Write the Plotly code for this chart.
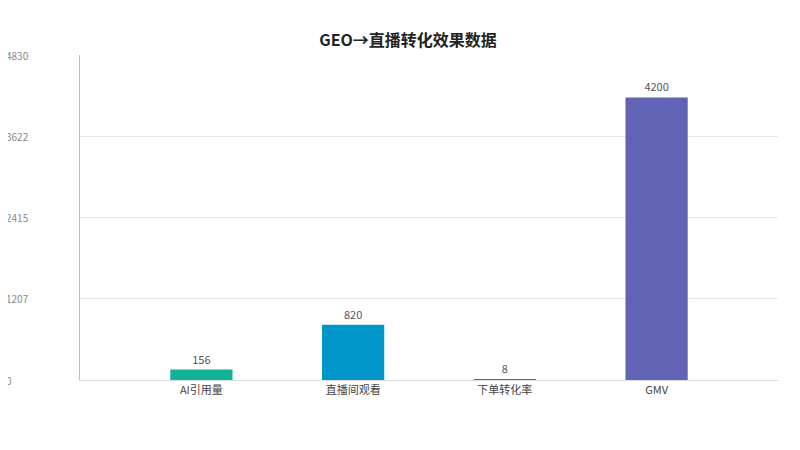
import plotly.graph_objects as go

categories = ['AI引用量', '直播间观看', '下单转化率', 'GMV']
values = [156, 820, 8, 4200]
colors = ['#13b09a', '#0096c9', '#1f78c1', '#6363b5']
tick_vals = [0, 1207, 2415, 3622, 4830]
tick_text = ['0', '1207', '2415', '3622', '4830']

font = "Microsoft YaHei, Noto Sans CJK SC, sans-serif"

fig = go.Figure(go.Bar(
    x=categories, y=values, marker_color=colors, width=0.41,
    marker_line=dict(width=0),
    text=[str(v) for v in values], textposition='outside',
    textfont=dict(size=11, color='#555'), cliponaxis=False,
))

fig.update_layout(
    title=dict(text='<b>GEO→直播转化效果数据</b>', x=0.5, y=0.94,
               font=dict(size=16, color='#222', family=font)),
    width=800, height=450,
    margin=dict(l=72, r=30, t=47, b=78),
    plot_bgcolor='white', paper_bgcolor='white',
    font=dict(family=font, size=11, color='#444'),
    showlegend=False,
    xaxis=dict(range=[-0.8, 3.8], showline=True, linecolor='#ddd',
               tickfont=dict(size=11, color='#444'), ticks=''),
    yaxis=dict(range=[0, 4830], tickvals=tick_vals, showticklabels=False,
               showgrid=True, gridcolor='#e6e6e6', showline=True,
               linecolor='#bbb', zeroline=False),
)

for v, t in zip(tick_vals, tick_text):
    fig.add_annotation(x=0, xref='paper', xshift=-76, xanchor='left',
                       y=v, yref='y', text=t, showarrow=False,
                       font=dict(size=10, color='#888'))

fig.write_html("out.html")
